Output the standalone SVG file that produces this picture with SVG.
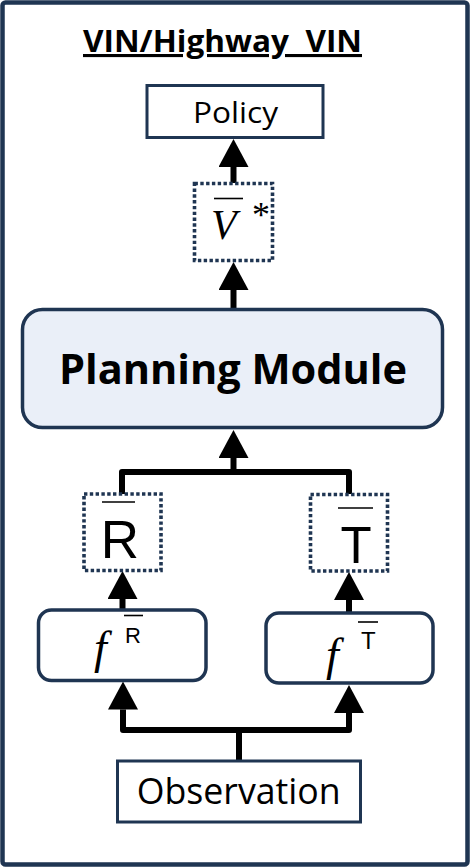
<svg xmlns="http://www.w3.org/2000/svg" width="470" height="867" viewBox="0 0 470 867">
<defs>
<marker id="ah" viewBox="0 0 28 30" refX="0" refY="15" markerWidth="28" markerHeight="30" markerUnits="userSpaceOnUse" orient="auto-start-reverse">
<path d="M0,0 L28,15 L0,30 z" fill="#000"/>
</marker>
<style>
.box{fill:#fff;stroke:#1f3552;stroke-width:3}
.rbox{fill:#fff;stroke:#1f3552;stroke-width:3.5}
.dot{fill:#fff;stroke:#1f3552;stroke-width:3.6;stroke-dasharray:3.4 2.4}
.pm{fill:#eaeff8;stroke:#1f3552;stroke-width:3.5}
.conn{fill:none;stroke:#000;stroke-width:6;stroke-linejoin:round}
.sans{font-family:"Open Sans","Noto Sans",sans-serif;fill:#000}
.helv{font-family:"Liberation Sans",Arial,sans-serif;fill:#000}
.math{font-family:"Liberation Serif","Times New Roman",serif;font-style:italic;fill:#000}
.ol{stroke:#000;stroke-width:1.6}
</style>
</defs>
<rect x="2.5" y="2.5" width="465" height="862" rx="3" fill="#fff" stroke="#1f3552" stroke-width="4.5"/>
<text class="sans" x="222.5" y="52" font-size="31" font-weight="bold" text-anchor="middle" text-decoration="underline" textLength="279" lengthAdjust="spacingAndGlyphs" xml:space="preserve">VIN/Highway  VIN</text>

<g id="connectors">
<line class="conn" x1="233.5" y1="183" x2="233.5" y2="167" marker-end="url(#ah)"/>
<line class="conn" x1="233.5" y1="308" x2="233.5" y2="290" marker-end="url(#ah)"/>
<path class="conn" d="M122,494 V472 H349 V494"/>
<line class="conn" x1="233.5" y1="472" x2="233.5" y2="458" marker-end="url(#ah)"/>
<line class="conn" x1="122.5" y1="610" x2="122.5" y2="599" marker-end="url(#ah)"/>
<line class="conn" x1="349" y1="613" x2="349" y2="600" marker-end="url(#ah)"/>
<path class="conn" d="M123,709.5 V730 H349 V713" marker-start="url(#ah)" marker-end="url(#ah)"/>
<line class="conn" x1="239" y1="730" x2="239" y2="761"/>
</g>

<g id="policy">
<rect class="box" x="147" y="85.5" width="176" height="52"/>
<text class="sans" x="235.5" y="123" font-size="30" text-anchor="middle" textLength="85" lengthAdjust="spacingAndGlyphs">Policy</text>
</g>

<g id="vstar">
<rect class="dot" x="194.5" y="183.5" width="78" height="77"/>
<line class="ol" x1="214" y1="198.5" x2="243" y2="198.5"/>
<text class="math" x="211" y="238.5" font-size="42">V</text>
<text x="252" y="227" font-size="36" font-family="Liberation Serif, serif">*</text>
</g>

<g id="planning">
<rect class="pm" x="22.5" y="309.5" width="420" height="118" rx="20"/>
<text class="sans" x="233" y="384" font-size="42" font-weight="bold" text-anchor="middle" textLength="348" lengthAdjust="spacingAndGlyphs">Planning Module</text>
</g>

<g id="rbar">
<rect class="dot" x="84" y="494" width="77" height="76.5"/>
<line class="ol" x1="102" y1="502" x2="135" y2="502"/>
<text class="helv" x="120" y="558" font-size="53" text-anchor="middle">R</text>
</g>

<g id="tbar">
<rect class="dot" x="310.5" y="494.5" width="77" height="76.5"/>
<line class="ol" x1="338" y1="508" x2="373" y2="508"/>
<text class="helv" x="356" y="563" font-size="51" text-anchor="middle">T</text>
</g>

<g id="fR">
<rect class="rbox" x="38.5" y="610" width="167.5" height="70.5" rx="13"/>
<text class="math" x="94" y="663" font-size="46">f</text>
<line class="ol" x1="124" y1="615.5" x2="143" y2="615.5"/>
<text class="helv" x="125" y="642.5" font-size="22">R</text>
</g>

<g id="fT">
<rect class="rbox" x="266" y="613" width="167" height="70" rx="13"/>
<text class="math" x="326" y="670" font-size="46">f</text>
<line class="ol" x1="358" y1="622" x2="378" y2="622"/>
<text class="helv" x="361" y="649" font-size="24">T</text>
</g>

<g id="observation">
<rect class="box" x="117.5" y="761" width="243" height="61"/>
<text class="sans" x="238.7" y="804" font-size="36" text-anchor="middle" textLength="204" lengthAdjust="spacingAndGlyphs">Observation</text>
</g>
</svg>
